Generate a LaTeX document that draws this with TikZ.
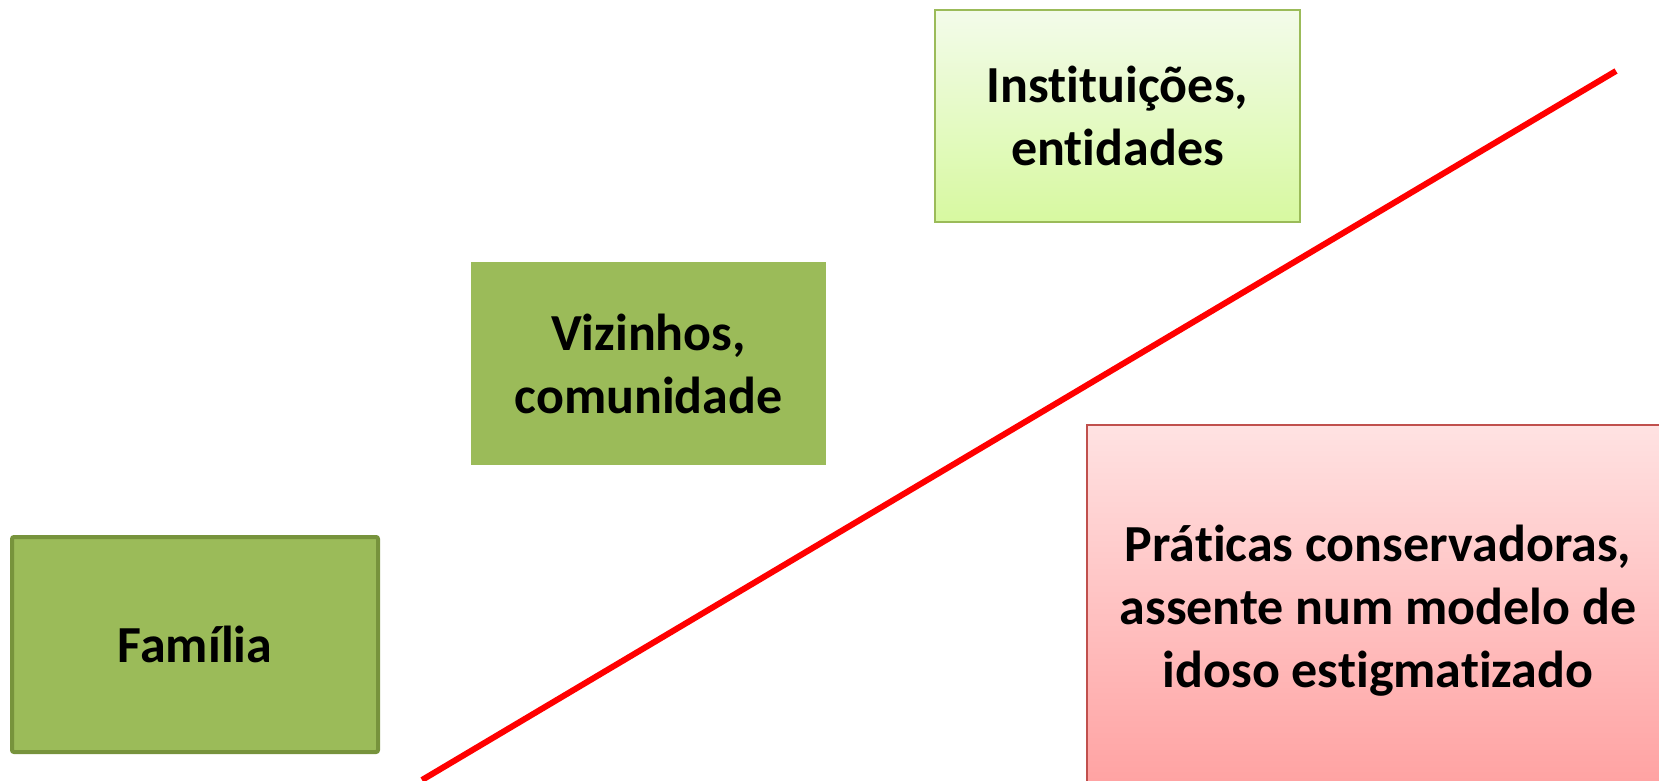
\documentclass[tikz,border=0pt]{standalone}
\usepackage{fontspec}
\setmainfont{Carlito}[RawFeature = {-liga;-clig;-dlig;-hlig;-calt;-rlig}]
\usetikzlibrary{positioning}

\definecolor{grn}{HTML}{9BBB59}
\definecolor{grndark}{HTML}{77933C}
\definecolor{grnpale}{HTML}{F3FBEA}
\definecolor{grnlime}{HTML}{D7F9A0}
\definecolor{rosetop}{HTML}{FFE2E2}
\definecolor{rosebot}{HTML}{FFA0A0}
\definecolor{roseline}{HTML}{C0504D}

\begin{document}
\begin{tikzpicture}[
    x = 1pt, y = 1pt,
    font = \fontsize{52}{63}\selectfont\bfseries
  ]

  \clip (0,0) rectangle (1659,780);

  \tikzstyle {box} = [rectangle, align = center, inner sep = 0, text = black]
  \tikzstyle {strong} = [box, fill = grn, draw = grndark, line width = 4pt, rounded corners = 2pt]
  \tikzstyle {plain} = [box, fill = grn]
  \tikzstyle {pale} = [box, top color = grnpale, bottom color = grnlime, draw = grn, line width = 2pt]
  \tikzstyle {rose} = [box, top color = rosetop, bottom color = rosebot, draw = roseline, line width = 2pt]
  \tikzstyle {trend} = [red, line width = 6pt]

  \node [strong, minimum width = 366pt, minimum height = 215pt] (familia) at (195,135.5) {Família};
  \node [plain, minimum width = 355pt, minimum height = 203pt] (vizinhos) at (648.5,416.5) {Vizinhos,\\comunidade};
  \node [pale, minimum width = 365pt, minimum height = 212pt] (instit) at (1117.5,664) {Instituições,\\entidades};
  \node [rose, minimum width = 582pt, minimum height = 372pt] (praticas) at (1378,169) {Práticas conservadoras,\\assente num modelo de\\idoso estigmatizado};

  \coordinate (lo) at (422,0);
  \coordinate (hi) at (1616,709);
  \draw [trend] (lo) -- (hi);
\end{tikzpicture}
\end{document}
